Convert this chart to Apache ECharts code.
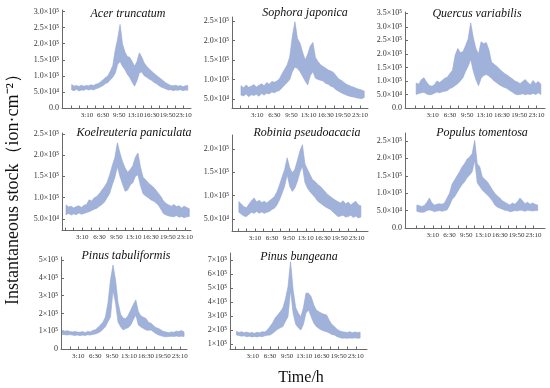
<!DOCTYPE html>
<html><head><meta charset="utf-8">
<script src="https://cdn.jsdelivr.net/npm/echarts@6/dist/echarts.min.js"></script>
<style>html,body{margin:0;padding:0;background:#fff}#c{width:550px;height:388px}</style>
</head><body><div id="c"></div>
<script>
// time of day in minutes (30-min steps)
const times = [0,30,60,90,120,150,180,210,240,270,300,330,360,390,420,450,480,510,540,570,600,630,660,690,720,750,780,810,840,870,900,930,960,990,1020,1050,1080,1110,1140,1170,1200,1230,1260,1290,1320,1350,1380,1410,1440];
const xTickValues = [190,390,590,790,990,1190,1390];
const xTickLabels = ['3:10','6:30','9:50','13:10','16:30','19:50','23:10'];
const speciesNames = ['Acer truncatum','Sophora japonica','Quercus variabilis','Koelreuteria paniculata','Robinia pseudoacacia','Populus tomentosa','Pinus tabuliformis','Pinus bungeana'];

// band lower / upper values, units of 10^4 ion·cm^-2
const acerLo = [5.6,5.4,5.8,5.3,5.6,5.5,5.9,5.6,5.8,5.6,6.0,6.2,6.6,7.0,7.6,7.9,8.8,9.6,10.8,13.5,14.5,13.0,12.0,10.5,9.5,8.0,6.8,8.5,11.0,11.2,10.0,9.6,9.0,8.6,8.0,7.6,7.0,6.5,6.2,5.9,5.6,5.7,5.4,5.6,5.5,5.7,5.4,5.6,5.5];
const acerHi = [7.3,6.8,7.0,6.7,7.1,6.8,7.0,6.9,7.2,7.0,7.4,7.6,8.2,8.8,9.5,10.0,11.5,13.2,18.0,21.5,26.0,20.0,17.5,16.0,15.8,14.5,13.0,14.5,17.2,15.8,14.0,13.0,12.2,11.5,10.8,10.2,9.6,9.0,8.4,7.8,7.4,7.0,6.9,7.1,6.8,7.0,6.6,6.9,7.0];
const sophoraLo = [6.0,5.8,6.3,5.6,6.1,5.9,6.2,5.7,6.4,6.0,6.5,6.3,6.8,6.6,7.0,7.2,7.9,8.6,9.2,10.0,12.0,13.2,12.8,12.0,10.8,9.6,8.6,11.0,12.0,10.3,10.0,9.8,9.6,9.0,8.8,8.3,8.0,7.4,7.0,6.6,6.3,6.0,5.8,5.6,5.5,5.3,5.2,5.1,5.4];
const sophoraHi = [8.4,7.9,8.6,8.0,8.3,8.7,8.1,8.5,8.9,8.4,9.2,8.8,9.5,9.3,9.6,10.2,11.5,12.6,13.8,15.8,21.0,24.8,20.5,19.3,17.0,15.0,16.5,18.6,19.5,15.6,14.6,13.8,13.3,12.9,12.4,12.2,11.8,11.0,10.2,9.8,9.3,8.8,8.5,8.2,8.0,7.7,7.5,7.3,7.0];
const quercusLo = [5.0,5.4,5.6,5.8,5.2,4.9,5.0,5.5,5.9,5.6,6.0,6.2,6.4,7.2,7.6,8.3,9.0,10.0,11.2,13.5,15.4,18.0,13.6,10.5,8.2,11.0,12.0,12.4,11.8,11.0,10.0,9.3,8.6,8.0,7.6,7.2,6.5,5.9,5.2,4.9,5.0,5.3,4.9,5.2,5.0,5.4,5.0,5.6,5.0];
const quercusHi = [9.2,8.8,10.5,11.2,9.6,8.4,8.0,8.6,10.0,9.4,10.2,11.0,11.4,12.8,14.0,19.5,22.0,20.5,20.8,23.0,25.5,31.5,26.0,22.0,20.0,24.5,23.8,24.2,21.5,17.0,16.2,15.4,14.5,13.6,12.8,12.2,11.5,10.8,10.0,9.6,9.0,9.8,10.5,9.4,8.6,10.2,9.0,9.8,8.8];
const koelLo = [6.0,6.3,5.9,6.2,6.0,6.4,6.1,6.3,6.5,6.7,7.0,7.3,7.5,8.0,8.4,9.0,10.0,11.0,13.0,14.7,17.3,15.0,13.2,11.5,11.8,13.0,13.5,15.0,15.4,12.8,10.9,10.4,10.0,9.5,9.2,8.8,8.2,7.2,6.2,5.9,5.7,5.6,5.5,5.8,5.4,5.6,5.3,5.5,5.6];
const koelHi = [8.3,7.8,8.0,7.6,7.9,8.1,7.7,8.2,8.4,9.5,9.2,10.0,10.3,11.0,11.8,12.6,13.6,15.4,17.5,19.4,22.9,20.5,18.5,17.0,16.0,16.6,17.5,19.5,20.5,17.2,14.8,14.2,13.5,13.0,12.5,11.8,11.0,10.2,9.2,8.6,8.3,8.0,8.4,7.9,8.1,7.6,8.0,7.7,7.4];
const robiniaLo = [6.4,6.0,5.6,5.5,6.0,6.4,6.2,6.6,6.2,6.5,6.2,6.4,6.6,7.0,7.3,8.0,9.1,10.5,12.0,14.5,12.0,10.9,11.6,13.0,15.0,16.3,12.8,11.6,10.8,10.2,9.6,8.8,8.4,8.0,7.6,7.3,7.0,6.5,6.0,5.5,5.6,5.8,5.4,5.5,5.8,5.3,5.6,5.2,5.4];
const robiniaHi = [8.7,8.2,7.6,7.4,8.2,8.9,9.5,8.6,9.0,8.5,8.8,8.4,8.9,9.3,9.8,10.8,12.3,14.0,15.6,18.1,16.0,14.9,15.6,17.5,19.5,20.9,16.8,15.6,14.5,13.4,13.0,12.4,12.0,11.4,10.8,10.2,9.8,9.4,9.0,8.7,8.4,8.9,8.2,8.6,8.0,8.4,8.8,8.0,7.8];
const populusLo = [4.8,4.6,4.5,4.6,5.0,5.2,5.0,4.7,4.9,5.0,4.8,5.0,5.2,6.5,8.2,9.0,10.2,11.4,12.5,13.3,14.5,15.2,16.2,19.5,13.0,11.9,10.9,10.2,9.5,8.8,7.8,6.6,6.0,5.7,5.4,5.1,5.0,4.7,4.8,5.0,4.9,5.2,5.0,4.8,5.1,5.0,4.9,5.0,5.0];
const populusHi = [6.6,6.4,6.2,6.5,7.4,8.6,7.2,6.6,6.8,7.0,6.8,7.2,8.6,10.0,12.6,13.8,15.0,16.2,17.6,18.5,19.8,20.4,21.4,25.2,18.5,17.6,14.7,14.0,13.3,12.2,11.0,10.0,9.2,8.6,7.8,7.4,7.0,6.6,7.2,6.8,7.6,8.6,7.8,7.0,7.4,6.8,7.2,6.8,6.6];
const tabulLo = [8.2,8.0,7.9,8.1,7.8,7.6,7.9,7.5,7.8,7.6,8.0,7.8,8.2,8.4,9.0,9.7,11.0,12.5,15.3,18.0,33.0,25.8,15.0,12.5,10.7,11.5,12.0,13.5,16.5,19.1,13.5,12.4,11.5,10.7,10.5,10.7,9.6,8.6,7.9,7.4,7.0,6.9,7.0,7.2,7.0,7.3,7.0,7.2,7.0];
const tabulHi = [10.5,10.0,10.3,9.8,9.6,9.9,9.5,9.4,9.8,9.2,9.9,9.6,10.4,10.8,12.0,13.5,15.0,18.0,25.8,38.8,47.2,38.8,26.0,19.5,17.4,17.0,19.0,21.9,25.0,27.5,21.0,18.6,17.8,17.2,15.0,14.5,13.0,12.0,11.5,10.6,9.8,9.5,9.2,9.6,9.4,10.0,9.8,10.4,9.6];
const bungLo = [16.4,16.0,15.6,15.8,15.2,15.6,15.0,15.4,15.0,15.6,15.2,15.8,16.2,16.4,17.5,19.0,20.5,21.5,22.4,26.0,29.5,48.6,31.9,24.0,21.5,20.0,24.0,32.1,34.3,29.5,25.0,22.4,21.0,20.0,19.2,18.8,17.8,16.8,16.4,15.4,14.6,14.1,14.2,14.0,14.3,14.1,14.4,14.0,14.2];
const bungHi = [19.0,18.2,18.8,18.0,18.5,17.8,18.2,17.6,18.4,18.0,18.8,18.5,20.0,22.4,25.0,28.5,30.7,33.0,35.7,42.0,50.9,68.8,48.6,36.0,32.0,29.5,36.0,46.4,46.2,43.8,38.0,34.3,33.0,32.0,31.2,30.7,27.0,24.0,22.4,20.5,19.4,18.8,18.5,18.2,18.8,18.0,18.6,18.2,18.4];

// y-axis tick values and labels per panel
const yTicks1 = [0,50000,100000,150000,200000,250000,300000];
const yLabels1 = ['0.0','5.0×10⁴','1.0×10⁵','1.5×10⁵','2.0×10⁵','2.5×10⁵','3.0×10⁵'];
const yTicks2 = [50000,100000,150000,200000,250000];
const yLabels2 = ['5.0×10⁴','1.0×10⁵','1.5×10⁵','2.0×10⁵','2.5×10⁵'];
const yTicks3 = [0,50000,100000,150000,200000,250000,300000,350000];
const yLabels3 = ['0.0','5.0×10⁴','1.0×10⁵','1.5×10⁵','2.0×10⁵','2.5×10⁵','3.0×10⁵','3.5×10⁵'];
const yTicks4 = [50000,100000,150000,200000,250000];
const yLabels4 = ['5.0×10⁴','1.0×10⁵','1.5×10⁵','2.0×10⁵','2.5×10⁵'];
const yTicks5 = [50000,100000,150000,200000];
const yLabels5 = ['5.0×10⁴','1.0×10⁵','1.5×10⁵','2.0×10⁵'];
const yTicks6 = [0,50000,100000,150000,200000,250000];
const yLabels6 = ['0.0','5.0×10⁴','1.0×10⁵','1.5×10⁵','2.0×10⁵','2.5×10⁵'];
const yTicks7 = [0,100000,200000,300000,400000,500000];
const yLabels7 = ['0','1×10⁵','2×10⁵','3×10⁵','4×10⁵','5×10⁵'];
const yTicks8 = [100000,200000,300000,400000,500000,600000,700000];
const yLabels8 = ['1×10⁵','2×10⁵','3×10⁵','4×10⁵','5×10⁵','6×10⁵','7×10⁵'];

const dataSets = [
  [acerLo, acerHi, yTicks1, yLabels1],
  [sophoraLo, sophoraHi, yTicks2, yLabels2],
  [quercusLo, quercusHi, yTicks3, yLabels3],
  [koelLo, koelHi, yTicks4, yLabels4],
  [robiniaLo, robiniaHi, yTicks5, yLabels5],
  [populusLo, populusHi, yTicks6, yLabels6],
  [tabulLo, tabulHi, yTicks7, yLabels7],
  [bungLo, bungHi, yTicks8, yLabels8]
];

// layout: grid left, top, width, height; y range; x range; title position
const layout = [
  {l:62, t:10, w:129, h:98, ymin:0, ymax:305000, xmin:-120, xmax:1480, tx:128, ty:14},
  {l:232, t:17, w:136, h:91, ymin:27000, ymax:260000, xmin:-105, xmax:1484, tx:305, ty:13},
  {l:405, t:12, w:140, h:96, ymin:0, ymax:355000, xmin:-129, xmax:1488, tx:477, ty:14},
  {l:62, t:133, w:129, h:97, ymin:24000, ymax:252000, xmin:-47, xmax:1460, tx:134, ty:133},
  {l:232, t:135, w:136, h:96, ymin:24000, ymax:230000, xmin:-81, xmax:1524, tx:307, ty:133},
  {l:405, t:133, w:140, h:95, ymin:0, ymax:273000, xmin:-141, xmax:1528, tx:482, ty:133},
  {l:61, t:257, w:126, h:92, ymin:0, ymax:517000, xmin:-15, xmax:1475, tx:126, ty:256},
  {l:230, t:253, w:137, h:96, ymin:64000, ymax:750000, xmin:-75, xmax:1520, tx:299, ty:257}
];

const xMinorTicks = [-10,90,190,290,390,490,590,690,790,890,990,1090,1190,1290,1390];
const bandColor = '#a1b2da';
const axisColor = '#6a6a6a';
const labelFont = "'Liberation Serif','DejaVu Serif',serif";

const grids = [], xAxes = [], yAxes = [], series = [], graphics = [];
dataSets.forEach(function (ds, i) {
  const L = layout[i];
  const lo = ds[0], hi = ds[1];
  grids.push({left: L.l, top: L.t, width: L.w, height: L.h, containLabel: false});
  xAxes.push({
    type: 'value', gridIndex: i, min: L.xmin, max: L.xmax,
    axisLine: {show: true, onZero: false, lineStyle: {color: axisColor, width: 1}},
    axisTick: {show: true, inside: true, length: 2.5, customValues: xMinorTicks, lineStyle: {color: axisColor}},
    axisLabel: {show: true, customValues: xTickValues, margin: 4, fontSize: 7, color: '#333', fontFamily: labelFont,
      formatter: function (v) { const k = xTickValues.indexOf(v); return k >= 0 ? xTickLabels[k] : ''; }},
    splitLine: {show: false}
  });
  yAxes.push({
    type: 'value', gridIndex: i, min: L.ymin, max: L.ymax,
    axisLine: {show: true, onZero: false, lineStyle: {color: axisColor, width: 1}},
    axisTick: {show: true, inside: true, length: 3, customValues: ds[2], lineStyle: {color: axisColor}},
    axisLabel: {show: true, customValues: ds[2], margin: 3, fontSize: 8, color: '#333', fontFamily: labelFont,
      formatter: function (v) { const k = ds[2].indexOf(v); return k >= 0 ? ds[3][k] : ''; }},
    splitLine: {show: false}
  });
  const rows = times.map(function (t, j) { return [t, lo[j] * 1e4, hi[j] * 1e4]; });
  series.push({
    type: 'custom', xAxisIndex: i, yAxisIndex: i, data: rows,
    encode: {x: 0, y: [1, 2]},
    renderItem: function (params, api) {
      if (params.dataIndex !== 0) return null;
      const pts = [];
      for (let j = 0; j < rows.length; j++) pts.push(api.coord([rows[j][0], rows[j][2]]));
      for (let j = rows.length - 1; j >= 0; j--) pts.push(api.coord([rows[j][0], rows[j][1]]));
      return {type: 'polygon', shape: {points: pts}, style: {fill: bandColor, stroke: '#94a6d3', lineWidth: 0.6}};
    },
    silent: true, animation: false
  });
  graphics.push({type: 'text', x: L.tx, y: L.ty, z: 10,
    style: {text: speciesNames[i], font: "italic 12px 'Liberation Serif', serif", fill: '#111', textAlign: 'center', textVerticalAlign: 'middle'}});
});

graphics.push({type: 'text', x: 13, y: 185, rotation: Math.PI / 2, z: 10,
  style: {text: 'Instantaneous stock（ion·cm⁻²）', font: "18px 'Liberation Serif', serif", fill: '#111', textAlign: 'center', textVerticalAlign: 'middle'}});
graphics.push({type: 'text', x: 301, y: 378, z: 10,
  style: {text: 'Time/h', font: "16px 'Liberation Serif', serif", fill: '#111', textAlign: 'center', textVerticalAlign: 'middle'}});

const chart = echarts.init(document.getElementById('c'), null, {renderer: 'canvas'});
chart.setOption({
  animation: false,
  backgroundColor: '#fff',
  grid: grids, xAxis: xAxes, yAxis: yAxes, series: series, graphic: graphics
});
</script></body></html>
